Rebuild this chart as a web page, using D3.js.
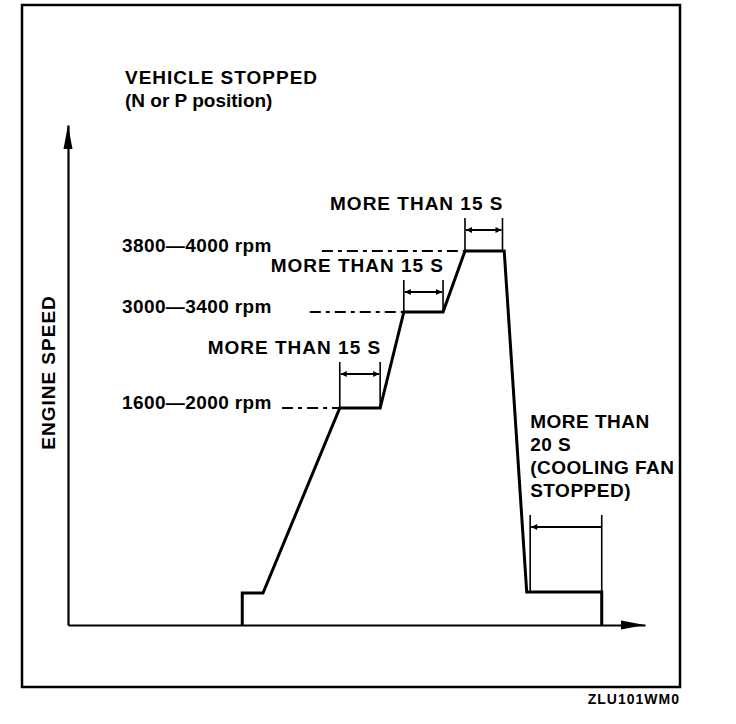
<!DOCTYPE html>
<html>
<head>
<meta charset="utf-8">
<script src="https://cdn.jsdelivr.net/npm/d3@7"></script>
<style>
  body { margin: 0; background: #fff; }
  svg { display: block; font-family: "Liberation Sans", Arial, sans-serif; }
  .lbl { font-size: 19px; font-weight: bold; letter-spacing: 1px; }
</style>
</head>
<body>
<div id="chart"></div>
<script>
// engine speed profile (both axes in % of the axis length)
const timePts  = [30.2, 30.2, 33.8, 47.1, 54.1, 58.2, 65.0, 68.8, 75.6, 79.5, 92.5, 92.5];
const speedPts = [0, 6.4, 6.4, 43.4, 43.4, 62.6, 62.6, 74.8, 74.8, 6.6, 6.6, 0];

// speed levels
const levelSpeeds = [43.4, 62.6, 74.8];
const levelLabels = ["1600\u20142000 rpm", "3000\u20143400 rpm", "3800\u20144000 rpm"];
const leaderFrom  = [37.1, 41.9, 44.0];

// hold periods at each level
const holdStart  = [47.1, 58.2, 68.8];
const holdEnd    = [54.1, 65.0, 75.3];
const holdTop    = [52.6, 69.0, 81.4];
const holdLabels = ["MORE THAN 15 S", "MORE THAN 15 S", "MORE THAN 15 S"];

// cooling fan period
const fanPeriod = [80.1, 92.5];
const fanTop    = [22.0];
const fanLabel  = ["MORE THAN", "20 S", "(COOLING FAN", "STOPPED)"];

const titleLines = ["VEHICLE STOPPED", "(N or P position)"];
const yTitle = "ENGINE SPEED";
const figCode = "ZLU101WM0";

const W = 736, H = 724;
const margin = {top: 125, right: 91, bottom: 99, left: 68};

const x = d3.scaleLinear().domain([0, 100]).range([margin.left, W - margin.right]);
const y = d3.scaleLinear().domain([0, 100]).range([H - margin.bottom, margin.top]);

const svg = d3.select("#chart").append("svg")
    .attr("width", W)
    .attr("height", H);

svg.append("rect").attr("width", W).attr("height", H).attr("fill", "#fff");

// frame
svg.append("rect")
    .attr("x", 22).attr("y", 5)
    .attr("width", 658).attr("height", 682)
    .attr("fill", "none")
    .attr("stroke", "#000")
    .attr("stroke-width", 2.5);

svg.append("text")
    .attr("class", "lbl")
    .attr("x", 680).attr("y", 704)
    .attr("text-anchor", "end")
    .style("font-size", "14px")
    .text(figCode);

// axes, no ticks
const xAxis = svg.append("g")
    .attr("transform", "translate(0," + y(0) + ")")
    .call(d3.axisBottom(x).tickValues([]).tickSizeOuter(0));
const yAxis = svg.append("g")
    .attr("transform", "translate(" + x(0) + ",0)")
    .call(d3.axisLeft(y).tickValues([]).tickSizeOuter(0));
svg.selectAll(".domain").attr("stroke-width", 2.2);

// arrow heads on the axes
const ah = 24, aw = 4.5;
svg.append("path")
    .attr("d", `M${x(100)},${y(0)}L${x(100) - ah},${y(0) - aw}L${x(100) - ah},${y(0) + aw}Z`)
    .attr("fill", "#000");
svg.append("path")
    .attr("d", `M${x(0)},${y(100)}L${x(0) - aw},${y(100) + ah}L${x(0) + aw},${y(100) + ah}Z`)
    .attr("fill", "#000");

// y title
svg.append("text")
    .attr("class", "lbl")
    .attr("transform", "translate(55," + y(50.5) + ") rotate(-90)")
    .attr("text-anchor", "middle")
    .text(yTitle);

// title
svg.selectAll(".title")
    .data(titleLines)
    .enter().append("text")
    .attr("class", "lbl")
    .attr("x", x(0) + 57)
    .attr("y", (d, i) => 84 + i * 23)
    .style("letter-spacing", (d, i) => i ? "0px" : "1px")
    .text(d => d);

// level labels with dash-dot leaders
svg.selectAll(".lvl")
    .data(levelSpeeds)
    .enter().append("text")
    .attr("class", "lbl")
    .attr("x", x(0) + 54)
    .attr("y", d => y(d) + 1)
    .style("letter-spacing", "0.4px")
    .text((d, i) => levelLabels[i]);

svg.selectAll(".leader")
    .data(levelSpeeds)
    .enter().append("line")
    .attr("x1", (d, i) => x(leaderFrom[i]))
    .attr("x2", (d, i) => x(i === 2 ? holdStart[i] : holdStart[i]))
    .attr("y1", d => y(d))
    .attr("y2", d => y(d))
    .attr("stroke", "#000")
    .attr("stroke-width", 2)
    .attr("stroke-dasharray", "11,5,4,5");

// small arrow heads for the brackets
const defs = svg.append("defs");
defs.append("marker")
    .attr("id", "tip")
    .attr("viewBox", "0 0 10 10")
    .attr("refX", 10).attr("refY", 5)
    .attr("markerWidth", 7).attr("markerHeight", 6)
    .attr("markerUnits", "userSpaceOnUse")
    .attr("orient", "auto-start-reverse")
    .append("path")
    .attr("d", "M0,0L10,5L0,10Z")
    .attr("fill", "#000");

// hold brackets
const holds = svg.selectAll(".hold")
    .data(holdStart)
    .enter().append("g");

holds.append("line")
    .attr("x1", d => x(d)).attr("x2", d => x(d))
    .attr("y1", (d, i) => y(holdTop[i]))
    .attr("y2", (d, i) => y(levelSpeeds[i]))
    .attr("stroke", "#000").attr("stroke-width", 1.6);
holds.append("line")
    .attr("x1", (d, i) => x(holdEnd[i])).attr("x2", (d, i) => x(holdEnd[i]))
    .attr("y1", (d, i) => y(holdTop[i]))
    .attr("y2", (d, i) => y(levelSpeeds[i]))
    .attr("stroke", "#000").attr("stroke-width", 1.6);
holds.append("line")
    .attr("x1", d => x(d) + 1)
    .attr("x2", (d, i) => x(holdEnd[i]) - 1)
    .attr("y1", (d, i) => y(holdTop[i]) + 12)
    .attr("y2", (d, i) => y(holdTop[i]) + 12)
    .attr("stroke", "#000").attr("stroke-width", 2)
    .attr("marker-start", "url(#tip)")
    .attr("marker-end", "url(#tip)");
holds.append("text")
    .attr("class", "lbl")
    .attr("x", (d, i) => x(holdEnd[i]) + 1)
    .attr("y", (d, i) => y(holdTop[i]) - 8)
    .attr("text-anchor", "end")
    .text((d, i) => holdLabels[i]);

// cooling fan bracket
const fan = svg.append("g");
fan.selectAll(".fanv")
    .data(fanPeriod)
    .enter().append("line")
    .attr("x1", d => x(d)).attr("x2", d => x(d))
    .attr("y1", y(fanTop[0]))
    .attr("y2", (d, i) => i ? y(0) : y(speedPts[9]))
    .attr("stroke", "#000").attr("stroke-width", 1.6);
fan.append("line")
    .attr("x1", x(fanPeriod[0]) + 1)
    .attr("x2", x(fanPeriod[1]))
    .attr("y1", y(fanTop[0]) + 12)
    .attr("y2", y(fanTop[0]) + 12)
    .attr("stroke", "#000").attr("stroke-width", 2)
    .attr("marker-start", "url(#tip)");
fan.selectAll(".fant")
    .data(fanLabel)
    .enter().append("text")
    .attr("class", "lbl")
    .attr("x", x(fanPeriod[0]) - (0))
    .attr("y", (d, i) => y(fanTop[0]) - 87 + i * 23)
    .style("letter-spacing", "0.5px")
    .text(d => d);

// the speed trace
const line = d3.line()
    .x(d => x(d[0]))
    .y(d => y(d[1]));

svg.append("path")
    .datum(d3.zip(timePts, speedPts))
    .attr("d", line)
    .attr("fill", "none")
    .attr("stroke", "#000")
    .attr("stroke-width", 3)
    .attr("stroke-linejoin", "miter");
</script>
</body>
</html>
